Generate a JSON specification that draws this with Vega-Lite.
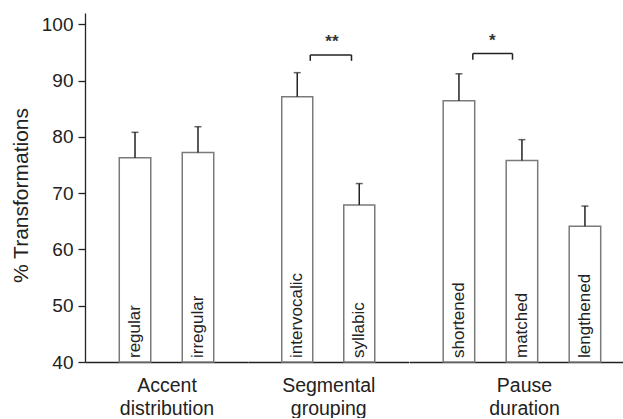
{
  "$schema": "https://vega.github.io/schema/vega-lite/v6.json",
  "padding": {"left": 10, "top": 13, "right": 0, "bottom": 0},
  "spacing": 0,
  "datasets": {
    "bars": [
      {"group": "Accent", "condition": "regular", "mean": 76.3, "upper": 80.8},
      {"group": "Accent", "condition": "irregular", "mean": 77.2, "upper": 81.8},
      {"group": "Segmental", "condition": "intervocalic", "mean": 87.1, "upper": 91.4},
      {"group": "Segmental", "condition": "syllabic", "mean": 67.9, "upper": 71.7},
      {"group": "Pause", "condition": "shortened", "mean": 86.4, "upper": 91.2},
      {"group": "Pause", "condition": "matched", "mean": 75.8, "upper": 79.5},
      {"group": "Pause", "condition": "lengthened", "mean": 64.1, "upper": 67.7}
    ],
    "sig": [
      {"group": "Segmental", "from": "intervocalic", "to": "syllabic", "level": 94.55, "foot": 93.5, "starY": 96.9, "label": "**"},
      {"group": "Pause", "from": "shortened", "to": "matched", "level": 94.8, "foot": 93.7, "starY": 97.1, "label": "*"}
    ]
  },
  "config": {
    "view": {"stroke": null},
    "font": "Liberation Sans",
    "axis": {"grid": false, "domainColor": "#222", "tickColor": "#222", "labelColor": "#222", "titleColor": "#222", "domainWidth": 1.3, "tickWidth": 1.3}
  },
  "resolve": {"scale": {"x": "independent"}},
  "hconcat": [
    {
      "width": 163,
      "height": 349,
      "data": {"name": "bars"},
      "transform": [{"filter": "datum.group === 'Accent'"}],
      "encoding": {
        "x": {"field": "condition", "type": "nominal",
          "scale": {"domain": ["regular", "irregular"], "paddingInner": 0.5, "paddingOuter": 0.544},
          "axis": {"title": ["Accent", "distribution"], "labels": false, "ticks": false, "titleFontSize": 19.5, "titleFontWeight": "normal", "titlePadding": 14, "titleLineHeight": 23.5}}
      },
      "layer": [
        {"mark": {"type": "bar", "fill": "white", "stroke": "#7a7a7a", "strokeWidth": 1.5},
         "encoding": {"y": {"field": "mean", "type": "quantitative", "scale": {"domain": [40, 102], "nice": false, "zero": false},
           "axis": {"values": [40, 50, 60, 70, 80, 90, 100], "title": "% Transformations", "titleFontSize": 21, "titleFontWeight": "normal", "labelFontSize": 19, "tickSize": 7, "labelPadding": 5, "titlePadding": 10, "titleY": 182}},
           "y2": {"datum": 40}}},
        {"mark": {"type": "rule", "color": "#222", "strokeWidth": 1.5},
         "encoding": {"y": {"field": "mean", "type": "quantitative"}, "y2": {"field": "upper"}}},
        {"mark": {"type": "tick", "color": "#222", "thickness": 1.5, "size": 7},
         "encoding": {"y": {"field": "upper", "type": "quantitative"}}},
        {"mark": {"type": "text", "angle": 270, "align": "left", "baseline": "middle", "fontSize": 17, "dx": 4, "color": "#222"},
         "encoding": {"y": {"datum": 40, "type": "quantitative"}, "text": {"field": "condition"}}}
      ]
    },
    {
      "width": 160.5,
      "height": 349,
      "encoding": {
        "x": {"field": "condition", "type": "nominal",
          "scale": {"domain": ["intervocalic", "syllabic"], "paddingInner": 0.5, "paddingOuter": 0.544},
          "axis": {"title": ["Segmental", "grouping"], "labels": false, "ticks": false, "titleFontSize": 19.5, "titleFontWeight": "normal", "titlePadding": 14, "titleLineHeight": 23.5}}
      },
      "layer": [
        {"data": {"name": "bars"}, "transform": [{"filter": "datum.group === 'Segmental'"}],
         "layer": [
          {"mark": {"type": "bar", "fill": "white", "stroke": "#7a7a7a", "strokeWidth": 1.5},
           "encoding": {"y": {"field": "mean", "type": "quantitative", "scale": {"domain": [40, 102], "nice": false, "zero": false}, "axis": null}, "y2": {"datum": 40}}},
          {"mark": {"type": "rule", "color": "#222", "strokeWidth": 1.5},
           "encoding": {"y": {"field": "mean", "type": "quantitative", "axis": null}, "y2": {"field": "upper"}}},
          {"mark": {"type": "tick", "color": "#222", "thickness": 1.5, "size": 7},
           "encoding": {"y": {"field": "upper", "type": "quantitative", "axis": null}}},
          {"mark": {"type": "text", "angle": 270, "align": "left", "baseline": "middle", "fontSize": 17, "dx": 4, "color": "#222"},
           "encoding": {"y": {"datum": 40, "type": "quantitative", "axis": null}, "text": {"field": "condition"}}}
         ]},
        {"data": {"name": "sig"}, "transform": [{"filter": "datum.group === 'Segmental'"}],
         "layer": [
          {"mark": {"type": "rule", "color": "#222", "strokeWidth": 1.5},
           "encoding": {"x": {"field": "from", "type": "nominal", "bandPosition": 0.92}, "x2": {"field": "to", "bandPosition": 0.25}, "y": {"field": "level", "type": "quantitative", "axis": null}}},
          {"mark": {"type": "rule", "color": "#222", "strokeWidth": 1.5},
           "encoding": {"x": {"field": "from", "type": "nominal", "bandPosition": 0.92}, "y": {"field": "level", "type": "quantitative", "axis": null}, "y2": {"field": "foot"}}},
          {"mark": {"type": "rule", "color": "#222", "strokeWidth": 1.5},
           "encoding": {"x": {"field": "to", "type": "nominal", "bandPosition": 0.25}, "y": {"field": "level", "type": "quantitative", "axis": null}, "y2": {"field": "foot"}}},
          {"mark": {"type": "text", "fontSize": 17, "fontWeight": "bold", "color": "#333", "baseline": "middle", "align": "center"},
           "encoding": {"x": {"field": "from", "type": "nominal", "bandPosition": 1.62}, "y": {"field": "starY", "type": "quantitative", "axis": null}, "text": {"field": "label"}}}
         ]}
      ]
    },
    {
      "width": 214.4,
      "height": 349,
      "encoding": {
        "x": {"field": "condition", "type": "nominal",
          "scale": {"domain": ["shortened", "matched", "lengthened"], "paddingInner": 0.5, "paddingOuter": 0.4516, "align": 0.601},
          "axis": {"title": ["Pause", "duration"], "labels": false, "ticks": false, "titleFontSize": 19.5, "titleFontWeight": "normal", "titlePadding": 14, "titleLineHeight": 23.5, "titleX": 115}}
      },
      "layer": [
        {"data": {"name": "bars"}, "transform": [{"filter": "datum.group === 'Pause'"}],
         "layer": [
          {"mark": {"type": "bar", "fill": "white", "stroke": "#7a7a7a", "strokeWidth": 1.5},
           "encoding": {"y": {"field": "mean", "type": "quantitative", "scale": {"domain": [40, 102], "nice": false, "zero": false}, "axis": null}, "y2": {"datum": 40}}},
          {"mark": {"type": "rule", "color": "#222", "strokeWidth": 1.5},
           "encoding": {"y": {"field": "mean", "type": "quantitative", "axis": null}, "y2": {"field": "upper"}}},
          {"mark": {"type": "tick", "color": "#222", "thickness": 1.5, "size": 7},
           "encoding": {"y": {"field": "upper", "type": "quantitative", "axis": null}}},
          {"mark": {"type": "text", "angle": 270, "align": "left", "baseline": "middle", "fontSize": 17, "dx": 4, "color": "#222"},
           "encoding": {"y": {"datum": 40, "type": "quantitative", "axis": null}, "text": {"field": "condition"}}}
         ]},
        {"data": {"name": "sig"}, "transform": [{"filter": "datum.group === 'Pause'"}],
         "layer": [
          {"mark": {"type": "rule", "color": "#222", "strokeWidth": 1.5},
           "encoding": {"x": {"field": "from", "type": "nominal", "bandPosition": 0.94}, "x2": {"field": "to", "bandPosition": 0.2}, "y": {"field": "level", "type": "quantitative", "axis": null}}},
          {"mark": {"type": "rule", "color": "#222", "strokeWidth": 1.5},
           "encoding": {"x": {"field": "from", "type": "nominal", "bandPosition": 0.94}, "y": {"field": "level", "type": "quantitative", "axis": null}, "y2": {"field": "foot"}}},
          {"mark": {"type": "rule", "color": "#222", "strokeWidth": 1.5},
           "encoding": {"x": {"field": "to", "type": "nominal", "bandPosition": 0.2}, "y": {"field": "level", "type": "quantitative", "axis": null}, "y2": {"field": "foot"}}},
          {"mark": {"type": "text", "fontSize": 17, "fontWeight": "bold", "color": "#333", "baseline": "middle", "align": "center"},
           "encoding": {"x": {"field": "from", "type": "nominal", "bandPosition": 1.56}, "y": {"field": "starY", "type": "quantitative", "axis": null}, "text": {"field": "label"}}}
         ]}
      ]
    }
  ]
}
